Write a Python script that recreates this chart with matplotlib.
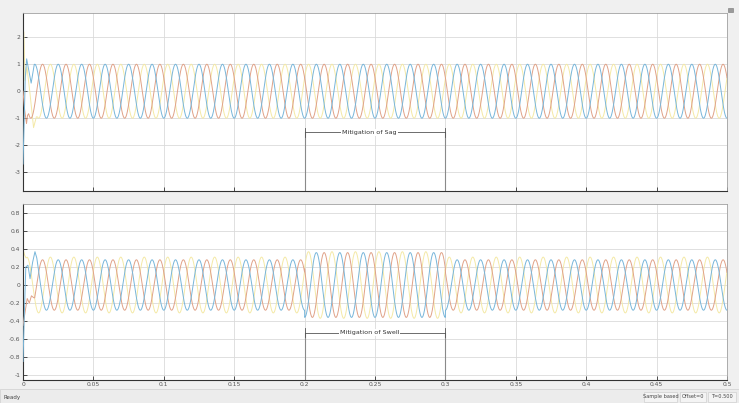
import numpy as np
import matplotlib
matplotlib.use("Agg")
import matplotlib.pyplot as plt
from matplotlib.patches import Rectangle

# ---------------- data ----------------
freq_hz = 60.0
t_end = 0.5
event_start, event_end = 0.2, 0.3

# top scope: steady amplitudes (outside event, inside event)
top_amp_blue = [1.0, 1.0]
top_amp_orange = [1.0, 1.0]
top_amp_yellow = [1.0, 1.0]
# bottom scope
bot_amp_blue = [0.28, 0.36]
bot_amp_orange = [0.28, 0.36]
bot_amp_yellow = [0.31, 0.37]

# phase offsets (radians) of -cos(w t + phi)
phase_blue = 0.0
phase_orange = -2 * np.pi / 3
phase_yellow = 2 * np.pi / 3

# start-up transients (time s, value)
top_tr_blue_t = [0.0, 0.0008, 0.0016, 0.0026, 0.0042, 0.0058, 0.0072]
top_tr_blue_v = [-2.7, -1.2, 0.5, 1.2, 0.75, 0.3, 0.75]
top_tr_orange_t = [0.0, 0.0012, 0.0025, 0.0032]
top_tr_orange_v = [0.0, -0.7, -1.2, -0.9]
top_tr_yellow_t = [0.0, 0.0006, 0.0014, 0.0028, 0.005, 0.0075, 0.0095]
top_tr_yellow_v = [0.5, 2.2, 0.4, 0.9, -0.1, -1.35, -0.95]

bot_tr_blue_t = [0.0, 0.001, 0.002, 0.0035, 0.005, 0.0068, 0.0085, 0.0098, 0.0112]
bot_tr_blue_v = [-0.85, -0.3, 0.2, 0.22, 0.07, 0.25, 0.37, 0.3, 0.14]
bot_tr_orange_t = [0.0, 0.0015, 0.003, 0.0045, 0.006, 0.0075]
bot_tr_orange_v = [-0.45, -0.3, -0.15, -0.2, -0.12, -0.14]
bot_tr_yellow_t = [0.0, 0.0012, 0.0022]
bot_tr_yellow_v = [0.4, 0.33, 0.3]

x_ticks = [0, 0.05, 0.1, 0.15, 0.2, 0.25, 0.3, 0.35, 0.4, 0.45, 0.5]
x_tick_labels = ["0", "0.05", "0.1", "0.15", "0.2", "0.25", "0.3", "0.35", "0.4", "0.45", "0.5"]
top_y_ticks = [-3, -2, -1, 0, 1, 2]
bot_y_ticks = [-1, -0.8, -0.6, -0.4, -0.2, 0, 0.2, 0.4, 0.6, 0.8]
bot_y_tick_labels = ["-1", "-0.8", "-0.6", "-0.4", "-0.2", "0", "0.2", "0.4", "0.6", "0.8"]

top_label = "Mitigation of Sag"
bot_label = "Mitigation of Swell"
top_label_y = -1.53
bot_label_y = -0.53

status_left = "Ready"
status_right = ["Sample based", "Offset=0", "T=0.500"]

# ---------------- styling ----------------
c_blue = "#78b6da"
c_orange = "#e0a288"
c_yellow = "#f4e9a6"
grid_c = "#dadada"
bg = "#f0f0f0"
w = 2 * np.pi * freq_hz


def wave(t, amps, phi):
    a = np.where((t >= event_start) & (t < event_end), amps[1], amps[0])
    return -a * np.cos(w * t + phi)


def trace(tr_t, tr_v, amps, phi):
    t0 = tr_t[-1] + 0.0008
    t = np.linspace(t0, t_end, 6000)
    return (np.concatenate([tr_t, t]), np.concatenate([tr_v, wave(t, amps, phi)]))


fig = plt.figure(figsize=(7.39, 4.03), dpi=100, facecolor=bg)

ax1 = fig.add_axes([23 / 739, 1 - 191 / 403, 704 / 739, 178 / 403])
ax2 = fig.add_axes([23 / 739, 1 - 379.5 / 403, 704 / 739, 175.5 / 403])

for ax in (ax1, ax2):
    ax.set_facecolor("white")
    ax.set_xlim(0, t_end)
    ax.set_xticks(x_ticks)
    ax.grid(True, color=grid_c, linewidth=0.6)
    ax.set_axisbelow(True)
    ax.tick_params(direction="in", length=3, width=0.6, colors="#333333",
                   labelsize=4.3, labelcolor="#555555", pad=2)
    for s in ("left", "bottom"):
        ax.spines[s].set_color("#333333")
        ax.spines[s].set_linewidth(0.8)
    for s in ("top", "right"):
        ax.spines[s].set_color("#a0a0a0")
        ax.spines[s].set_linewidth(0.6)

ax1.set_ylim(-3.7, 2.9)
ax1.set_yticks(top_y_ticks)
ax1.set_yticklabels([str(v) for v in top_y_ticks])
ax1.set_xticklabels([])

ax2.set_ylim(-1.05, 0.9)
ax2.set_yticks(bot_y_ticks)
ax2.set_yticklabels(bot_y_tick_labels)
ax2.set_xticklabels(x_tick_labels)

lw = 0.7
for (tt, tv, amps, phi, c, z) in [
    (top_tr_yellow_t, top_tr_yellow_v, top_amp_yellow, phase_yellow, c_yellow, 2),
    (top_tr_orange_t, top_tr_orange_v, top_amp_orange, phase_orange, c_orange, 3),
    (top_tr_blue_t, top_tr_blue_v, top_amp_blue, phase_blue, c_blue, 4),
]:
    x, y = trace(tt, tv, amps, phi)
    ax1.plot(x, y, color=c, lw=lw, zorder=z)

for (tt, tv, amps, phi, c, z) in [
    (bot_tr_yellow_t, bot_tr_yellow_v, bot_amp_yellow, phase_yellow, c_yellow, 2),
    (bot_tr_orange_t, bot_tr_orange_v, bot_amp_orange, phase_orange, c_orange, 3),
    (bot_tr_blue_t, bot_tr_blue_v, bot_amp_blue, phase_blue, c_blue, 4),
]:
    x, y = trace(tt, tv, amps, phi)
    ax2.plot(x, y, color=c, lw=lw, zorder=z)


def bracket(ax, y, label, dy, ybot):
    ax.plot([event_start, event_end], [y, y], color="#555555", lw=0.6, zorder=5)
    for xe in (event_start, event_end):
        ax.plot([xe, xe], [y + dy, y - dy], color="#555555", lw=0.6, zorder=5)
        ax.plot([xe, xe], [y, ybot], color="#8a8a8a", lw=0.8, zorder=1)
    ax.text((event_start + event_end) / 2 - 0.004, y, label, ha="center", va="center",
            fontsize=4.6, color="#333333", zorder=6,
            bbox=dict(facecolor="white", edgecolor="none", pad=0.6))


bracket(ax1, top_label_y, top_label, 0.17, -3.7)
bracket(ax2, bot_label_y, bot_label, 0.05, -1.05)

# status bar
fig.patches.append(Rectangle((0, 0), 1, 14 / 403, transform=fig.transFigure,
                             facecolor="#ececec", edgecolor="#d0d0d0", lw=0.5))
fig.text(3 / 739, 6 / 403, status_left, fontsize=4.0, color="#444444", va="center")
for txt, x0, x1 in zip(status_right, [644, 680, 708], [677, 706, 736]):
    fig.patches.append(Rectangle((x0 / 739, 1.5 / 403), (x1 - x0) / 739, 10 / 403,
                                 transform=fig.transFigure, facecolor="#f4f4f4",
                                 edgecolor="#c8c8c8", lw=0.4))
    fig.text((x0 + x1) / 2 / 739, 6.5 / 403, txt, fontsize=3.6, color="#444444",
             va="center", ha="center")
fig.patches.append(Rectangle((728 / 739, 1 - 12 / 403), 5 / 739, 4 / 403, transform=fig.transFigure,
                             facecolor="#9a9a9a", edgecolor="#777777", lw=0.4))

fig.savefig("out.png", dpi=100, facecolor=bg)
